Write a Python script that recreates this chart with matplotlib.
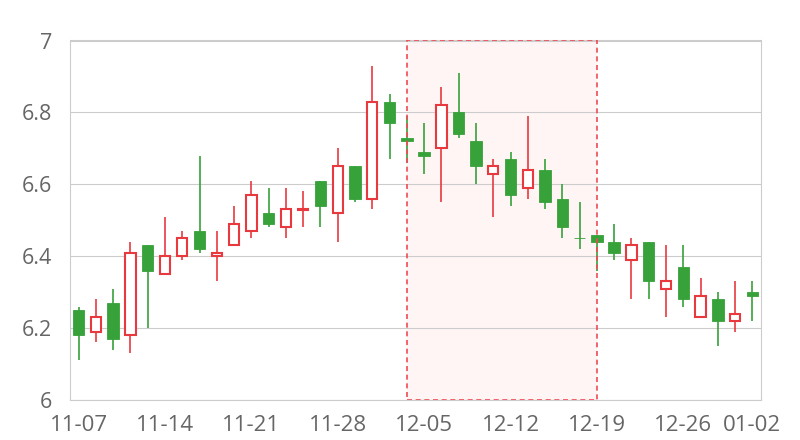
import numpy as np
import matplotlib
matplotlib.use("Agg")
import matplotlib.pyplot as plt

dates = ["11-07", "11-08", "11-09", "11-10", "11-13", "11-14", "11-15", "11-16", "11-17",
         "11-20", "11-21", "11-22", "11-23", "11-24", "11-27", "11-28", "11-29", "11-30",
         "12-01", "12-04", "12-05", "12-06", "12-07", "12-08", "12-11", "12-12", "12-13",
         "12-14", "12-15", "12-18", "12-19", "12-20", "12-21", "12-22", "12-25", "12-26",
         "12-27", "12-28", "12-29", "01-02"]
opens = [6.25, 6.19, 6.27, 6.18, 6.43, 6.35, 6.40, 6.47, 6.40, 6.43,
         6.47, 6.52, 6.48, 6.528, 6.61, 6.52, 6.65, 6.56, 6.83, 6.73,
         6.69, 6.70, 6.80, 6.72, 6.63, 6.67, 6.59, 6.64, 6.56, 6.452,
         6.46, 6.44, 6.39, 6.44, 6.31, 6.37, 6.23, 6.28, 6.22, 6.30]
closes = [6.18, 6.23, 6.17, 6.41, 6.36, 6.40, 6.45, 6.42, 6.41, 6.49,
          6.57, 6.49, 6.53, 6.532, 6.54, 6.65, 6.56, 6.83, 6.77, 6.72,
          6.68, 6.82, 6.74, 6.65, 6.65, 6.57, 6.64, 6.55, 6.48, 6.450,
          6.44, 6.41, 6.43, 6.33, 6.33, 6.28, 6.29, 6.22, 6.24, 6.29]
lows = [6.11, 6.16, 6.14, 6.13, 6.20, 6.35, 6.39, 6.41, 6.33, 6.43,
        6.45, 6.48, 6.45, 6.48, 6.48, 6.44, 6.55, 6.53, 6.67, 6.66,
        6.63, 6.55, 6.73, 6.60, 6.51, 6.54, 6.56, 6.53, 6.45, 6.42,
        6.36, 6.39, 6.28, 6.28, 6.23, 6.26, 6.23, 6.15, 6.19, 6.22]
highs = [6.26, 6.28, 6.31, 6.44, 6.43, 6.51, 6.47, 6.68, 6.47, 6.54,
         6.61, 6.59, 6.59, 6.58, 6.61, 6.70, 6.65, 6.93, 6.85, 6.79,
         6.77, 6.87, 6.91, 6.77, 6.67, 6.69, 6.79, 6.67, 6.60, 6.55,
         6.46, 6.49, 6.45, 6.44, 6.43, 6.43, 6.34, 6.30, 6.33, 6.33]
tick_labels = ["11-07", "11-14", "11-21", "11-28", "12-05", "12-12", "12-19", "12-26", "01-02"]
area_start, area_end = "12-04", "12-19"
y_ticks = [6, 6.2, 6.4, 6.6, 6.8, 7]

RED = "#e8393e"
GREEN = "#37a13a"
GRID = "#cccccc"
TXT = "#666666"

plt.rcParams["font.family"] = ["Open Sans", "DejaVu Sans"]

fig = plt.figure(figsize=(8, 4.4), dpi=100)
ax = fig.add_axes([70 / 800, 40 / 440, 691 / 800, 359.5 / 440])

n = len(dates)
x = np.arange(n)
ax.set_xlim(-0.5, n - 0.5)
ax.set_ylim(6, 7)

# mark area
xs, xe = dates.index(area_start), dates.index(area_end)
ax.axvspan(xs, xe, ymin=0, ymax=1, facecolor="#fff5f5", edgecolor="none", zorder=0.3)
ax.axvspan(xs, xe, ymin=0, ymax=1, facecolor="none", edgecolor="#ef4a55",
           linestyle=(0, (3, 2.2)), linewidth=1.2, zorder=4)

# grid
for v in y_ticks:
    ax.axhline(v, color=GRID, lw=0.8, zorder=0.5)

o = np.array(opens)
c = np.array(closes)
up = c >= o
col = np.where(up, RED, GREEN)

ax.vlines(x, lows, highs, colors=col, linewidth=1.2, zorder=2)
body_bottom = np.minimum(o, c)
body_h = np.maximum(np.abs(c - o), 0.002)
ax.bar(x[up], body_h[up], bottom=body_bottom[up], width=0.6, color="white",
       edgecolor=RED, linewidth=1.5, zorder=3)
ax.bar(x[~up], body_h[~up], bottom=body_bottom[~up], width=0.66, color=GREEN,
       edgecolor=GREEN, linewidth=0.6, zorder=3)

for s in ax.spines.values():
    s.set_color(GRID)
    s.set_linewidth(0.8)

tick_pos = [dates.index(t) for t in tick_labels]
ax.set_xticks(tick_pos)
ax.set_xticklabels(tick_labels)
ax.set_yticks(y_ticks)
ax.set_yticklabels([f"{v:g}" for v in y_ticks])
ax.tick_params(axis="both", length=0, colors=TXT)
ax.tick_params(axis="y", pad=13, labelsize=15.5)
ax.tick_params(axis="x", pad=11, labelsize=16)

fig.savefig("out.png", dpi=100, facecolor="white")
